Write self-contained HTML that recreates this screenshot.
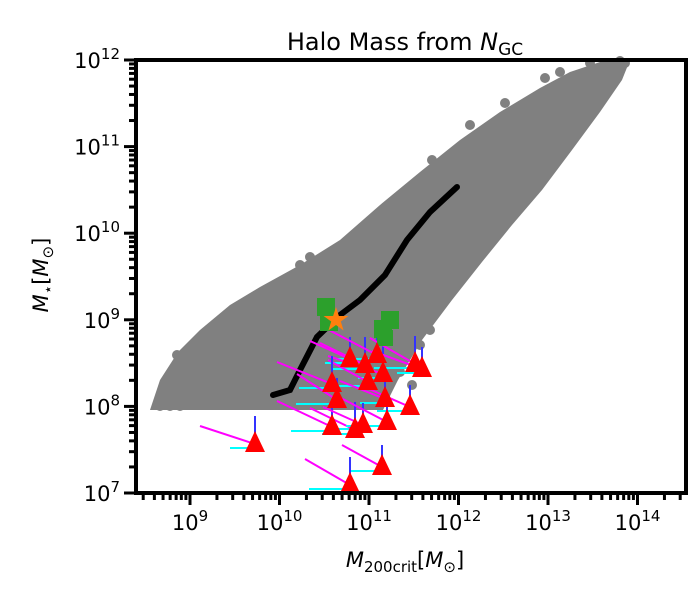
<!DOCTYPE html>
<html><head><meta charset="utf-8"><style>
body{margin:0;background:#fff;}
svg text{font-family:"DejaVu Sans","Liberation Sans",sans-serif;fill:#000;}
</style></head><body>
<svg id="s" width="700" height="600" xmlns="http://www.w3.org/2000/svg">
<rect width="700" height="600" fill="#fff"/>
<g id="cloud" fill="#808080">
<polygon points="150,410 160,380 178,352 200,330 230,305 260,287 300,265 340,240 380,205 420,172 460,140 500,112 540,88 570,72 600,62 630,60 622,80 600,112 572,150 542,190 512,225 482,262 452,300 422,340 398,380 383,410"/>
</g>
<g id="pts"></g>
<polyline points="273,395 290,390 300,370 317,337 340,315 360,300 385,275 407,240 430,212 457,187" fill="none" stroke="#000" stroke-width="6" stroke-linecap="round"/>
<g id="err"></g>
<g fill="#2ca02c">
<rect x="317" y="298" width="18" height="18"/><rect x="320" y="313" width="18" height="18"/>
<rect x="374" y="320" width="18" height="18"/><rect x="381" y="311" width="18" height="18"/><rect x="377" y="330" width="16" height="16"/>
</g>
<polygon id="star" fill="#ff7f0e"/>
<g id="tri" fill="#f00"></g>
<rect x="136" y="60" width="550" height="433" fill="none" stroke="#000" stroke-width="4"/>
<g id="ticks" stroke="#000"></g>
<g id="lab" font-size="21"></g>
<text x="405" y="50" font-size="24" text-anchor="middle">Halo Mass from <tspan font-style="italic">N</tspan><tspan font-size="17" dy="5">GC</tspan></text>
<text x="405" y="567" font-size="21" text-anchor="middle"><tspan font-style="italic">M</tspan><tspan font-size="15" dy="5">200crit</tspan><tspan dy="-5">[</tspan><tspan font-style="italic">M</tspan><tspan font-size="15" dy="5">⊙</tspan><tspan dy="-5">]</tspan></text>
<text transform="translate(48,275) rotate(-90)" font-size="21" text-anchor="middle"><tspan font-style="italic">M</tspan><tspan font-size="15" dy="5">⋆</tspan><tspan dy="-5">[</tspan><tspan font-style="italic">M</tspan><tspan font-size="15" dy="5">⊙</tspan><tspan dy="-5">]</tspan></text>
</svg>
<script>
var NS="http://www.w3.org/2000/svg";
function el(p,t,a){var e=document.createElementNS(NS,t);for(var k in a)e.setAttribute(k,a[k]);document.getElementById(p).appendChild(e);return e;}
[[177,355],[185,378],[196,363],[200,380],[160,406],[170,406],[180,406],[300,265],[310,257],[410,188],[432,160],[470,125],[505,103],[545,78],[560,72],[590,63],[620,61],[625,63],[583,95],[570,118],[520,180],[515,195],[480,220],[430,330],[420,345],[400,372],[412,385]].forEach(function(p){el("pts","circle",{cx:p[0],cy:p[1],r:5,fill:"#808080"});});
var sp=[],cx=336,cy=320;for(var i=0;i<10;i++){var r=i%2?5:13,a=-Math.PI/2+i*Math.PI/5;sp.push((cx+r*Math.cos(a)).toFixed(1)+","+(cy+r*Math.sin(a)).toFixed(1));}
document.getElementById("star").setAttribute("points",sp.join(" "));
var T=[[350,357],[365,363],[377,353],[383,372],[368,380],[415,362],[422,367],[332,382],[337,398],[385,397],[410,405],[332,425],[363,423],[355,428],[387,420],[255,442],[382,465],[350,483]];
T.forEach(function(p,i){var x=p[0],y=p[1];
el("err","line",{x1:x-25-(i%3)*8,y1:y+6,x2:x,y2:y+6,stroke:"#0ff","stroke-width":2});
el("err","line",{x1:x-40-(i%4)*5,y1:y-16-(i%3)*4,x2:x,y2:y+2,stroke:"#f0f","stroke-width":2});
el("err","line",{x1:x,y1:y-20-(i%2)*6,x2:x,y2:y,stroke:"#33f","stroke-width":2});
el("tri","polygon",{points:(x-10)+","+(y+10)+" "+(x+10)+","+(y+10)+" "+x+","+(y-11)});});
var x0=190,dx=89.5;
for(var d=8;d<=14;d++){for(var m=1;m<10;m++){var x=x0+(d-9+Math.log10(m))*dx;if(x<137||x>685)continue;
el("ticks","line",{x1:x,y1:493,x2:x,y2:m==1?505:500,"stroke-width":3});}
if(d>=9){var t=el("lab","text",{x:x0+(d-9)*dx,y:530,"text-anchor":"middle"});t.innerHTML="10<tspan font-size='15' dy='-9'>"+d+"</tspan>";}}
var y0=493,dy=86.6;
for(var d=7;d<=12;d++){for(var m=1;m<10;m++){var y=y0-(d-7+Math.log10(m))*dy;if(y<60)continue;
el("ticks","line",{x1:136,y1:y,x2:m==1?124:129,y2:y,"stroke-width":3});}
var t=el("lab","text",{x:120,y:y0-(d-7)*dy+8,"text-anchor":"end"});t.innerHTML="10<tspan font-size='15' dy='-9'>"+d+"</tspan>";}
</script>
</body></html>
